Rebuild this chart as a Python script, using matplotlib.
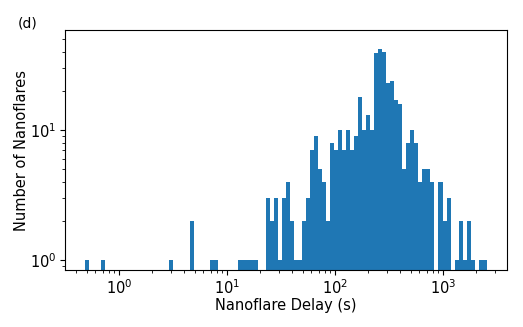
import numpy as np
import matplotlib
matplotlib.use('Agg')
import matplotlib.pyplot as plt

# DATA #####
# log-spaced bins (100 bins between shortest and longest delay)
delay_min = 0.482
delay_max = 2518.0
n_bins = 100

# counts per bin (bin index: count)
bin_idx = [0, 4, 21, 26, 31, 32, 38, 39, 40, 41, 42,
           45, 46, 47, 48, 49, 50, 51, 52, 53, 54, 55, 56, 57, 58, 59,
           60, 61, 62, 63, 64, 65, 66, 67, 68, 69, 70, 71, 72, 73, 74,
           75, 76, 77, 78, 79, 80, 81, 82, 83, 84, 85, 86, 88, 89, 90,
           92, 93, 94, 95, 96, 98, 99]
bin_counts = [1, 1, 1, 2, 1, 1, 1, 1, 1, 1, 1,
              3, 2, 3, 1, 3, 4, 2, 1, 1, 2, 3, 7, 9, 5, 4,
              2, 8, 7, 10, 7, 10, 7, 9, 18, 10, 13, 10, 39, 42, 40,
              23, 24, 17, 16, 5, 8, 10, 8, 4, 5, 5, 4, 4, 2, 3,
              1, 2, 1, 2, 1, 1, 1]

edges = np.logspace(np.log10(delay_min), np.log10(delay_max), n_bins + 1)
counts = np.zeros(n_bins)
counts[bin_idx] = bin_counts

# PLOT #####
fig = plt.figure(figsize=(5.23, 3.27), dpi=100)
ax = fig.add_axes([0.1243, 0.1743, 0.8447, 0.7337])

ax.hist(edges[:-1], bins=edges, weights=counts, log=True, color='#1f77b4')
ax.set_xscale('log')
ax.set_xlim(0.314, 3865)
ax.set_ylim(0.838, 58.8)

ax.set_xlabel('Nanoflare Delay (s)', fontsize=10.5, labelpad=1)
ax.set_ylabel('Number of Nanoflares', fontsize=10.5, labelpad=1)
ax.tick_params(labelsize=10.5, pad=2.5)

fig.text(0.033, 0.915, '(d)', fontsize=10)

fig.savefig('out.png', dpi=100)
